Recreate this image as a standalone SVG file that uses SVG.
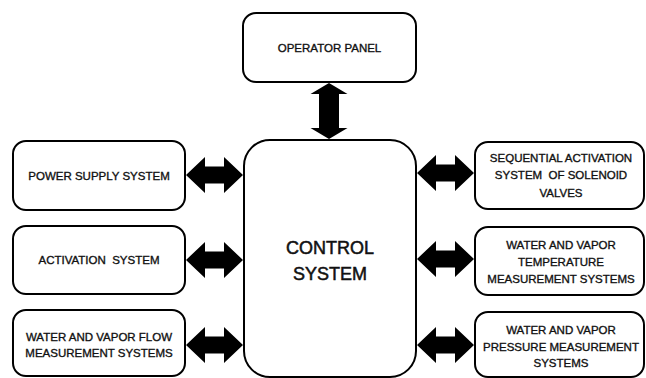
<svg xmlns="http://www.w3.org/2000/svg" width="646" height="378" viewBox="0 0 646 378">
<style>
.box{fill:#fff;stroke:#000;stroke-width:2}
.t{font-family:"Liberation Sans",Arial,sans-serif;font-size:11.5px;fill:#111;stroke:#111;stroke-width:0.35;text-anchor:middle}
.big{font-family:"Liberation Sans",Arial,sans-serif;font-size:18px;fill:#111;stroke:#111;stroke-width:0.5;text-anchor:middle}
.arr{fill:#000}
</style>
<defs>
<path id="harr" d="M0,0 L19,-18 L19,-8.5 L38,-8.5 L38,-18 L57,0 L38,18 L38,8.5 L19,8.5 L19,18 Z"/>
</defs>
<rect width="646" height="378" fill="#fff"/>
<g id="connectors" class="arr">
<path d="M329,83 L347.5,94 L339,94 L339,128 L347.5,128 L329,139 L310.5,128 L319,128 L319,94 L310.5,94 Z"/>
<use href="#harr" x="186" y="175"/>
<use href="#harr" x="186" y="260"/>
<use href="#harr" x="186" y="345"/>
<use href="#harr" x="417" y="173"/>
<use href="#harr" x="417" y="259"/>
<use href="#harr" x="417" y="345"/>
</g>
<g id="operator-panel">
<rect class="box" x="243" y="13" width="173" height="69" rx="13"/>
<text class="t" x="329.5" y="52">OPERATOR PANEL</text>
</g>
<g id="control-system">
<rect class="box" x="244" y="140" width="172" height="237" rx="26"/>
<text class="big" x="330" y="254">CONTROL</text>
<text class="big" x="330" y="280">SYSTEM</text>
</g>
<g id="power-supply">
<rect class="box" x="13" y="141" width="172" height="69" rx="13"/>
<text class="t" x="99" y="180">POWER SUPPLY SYSTEM</text>
</g>
<g id="activation">
<rect class="box" x="13" y="226" width="172" height="68" rx="13"/>
<text class="t" x="99" y="264" xml:space="preserve">ACTIVATION  SYSTEM</text>
</g>
<g id="flow-measurement">
<rect class="box" x="13" y="310" width="172" height="66" rx="13"/>
<text class="t" x="99" y="341">WATER AND VAPOR FLOW</text>
<text class="t" x="99" y="357">MEASUREMENT SYSTEMS</text>
</g>
<g id="sequential-activation">
<rect class="box" x="475" y="142" width="169" height="67" rx="13"/>
<text class="t" x="561" y="162">SEQUENTIAL ACTIVATION</text>
<text class="t" x="561" y="179" xml:space="preserve">SYSTEM  OF SOLENOID</text>
<text class="t" x="561" y="197">VALVES</text>
</g>
<g id="temperature-measurement">
<rect class="box" x="475" y="227" width="169" height="68" rx="13"/>
<text class="t" x="561" y="249">WATER AND VAPOR</text>
<text class="t" x="561" y="266">TEMPERATURE</text>
<text class="t" x="561" y="283">MEASUREMENT SYSTEMS</text>
</g>
<g id="pressure-measurement">
<rect class="box" x="475" y="312" width="169" height="65" rx="13"/>
<text class="t" x="561" y="334">WATER AND VAPOR</text>
<text class="t" x="561" y="351">PRESSURE MEASUREMENT</text>
<text class="t" x="561" y="367">SYSTEMS</text>
</g>
</svg>
